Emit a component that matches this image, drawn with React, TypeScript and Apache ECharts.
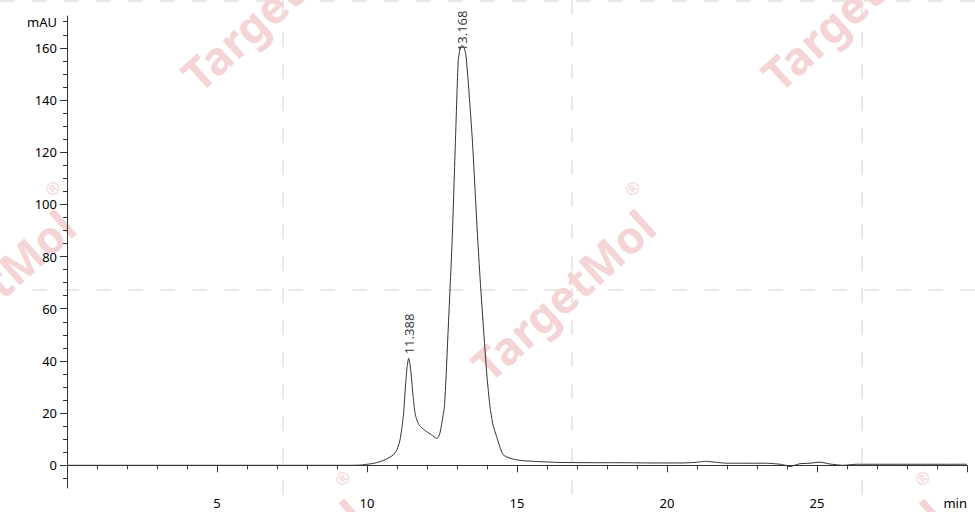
import React, { useEffect, useRef } from 'react';
import * as echarts from 'echarts';

// retention time (min) / absorbance (mAU)
const retentionTimes = [
  0, 5, 9.5, 9.8, 10.0, 10.2, 10.43, 10.65, 10.88, 11.0, 11.1, 11.21, 11.29, 11.34, 11.388, 11.43,
  11.47, 11.54, 11.6, 11.66, 11.72, 11.8, 11.99, 12.15, 12.32, 12.38, 12.43, 12.5, 12.58, 12.64,
  12.69, 12.77, 12.84, 12.95, 13.04, 13.1, 13.168, 13.24, 13.3, 13.4, 13.51, 13.6, 13.69, 13.79,
  13.91, 14.0, 14.1, 14.2, 14.32, 14.43, 14.54, 14.7, 14.9, 15.1, 15.4, 15.77, 16.43, 17.5, 18.5,
  19.5, 20.5, 20.93, 21.15, 21.32, 21.6, 21.99, 22.6, 23.32, 23.77, 23.95, 24.1, 24.25, 24.43,
  24.77, 25.1, 25.43, 25.87, 26.32, 27.5, 29, 30,
];
const absorbance = [
  0, 0, 0, 0.1, 0.4, 0.7, 1.4, 2.4, 4, 6, 9.7, 18.7, 31.5, 38, 41, 39,
  35, 26, 20, 17.4, 15.8, 14.6, 12.9, 11.7, 10.4, 10.8, 12.3, 16.5, 22.5, 35,
  48, 68, 86.7, 125, 155, 159.5, 161, 160, 157, 143, 125, 106, 86.7, 68,
  48, 34, 22.5, 15.5, 11, 7, 4, 3, 2.3, 1.9, 1.6, 1.4, 1.1, 1.0, 1.0,
  0.9, 0.9, 1.1, 1.4, 1.5, 1.2, 0.8, 0.8, 0.8, 0.4, 0, -0.5, 0, 0.6,
  0.8, 1.2, 0.5, 0.0, 0.4, 0.4, 0.4, 0.4,
];

const peakTimes = [11.388, 13.168];
const peakHeights = [41, 161];
const peakLabels = ['11.388', '13.168'];

const yLabelValues = [0, 20, 40, 60, 80, 100, 120, 140, 160, 170];
const yMajorTicks = [0, 20, 40, 60, 80, 100, 120, 140, 160];
const yMinorTicks = [
  -5, 5, 10, 15, 25, 30, 35, 45, 50, 55, 65, 70, 75, 85, 90, 95, 105, 110, 115, 125, 130, 135,
  145, 150, 155, 165, 170,
];

const FONT = '"Noto Sans", sans-serif';

// watermark tile (TargetMol) positions on the page
const wmCenters = [
  [563, 295], [273, 5], [853, 5], [-17, 295], [273, 585], [853, 585],
];
const dashV = [283, 572, 862];
const dashH = [1, 290];

const App: React.FC = () => {
  const chartRef = useRef<HTMLDivElement>(null);

  useEffect(() => {
    if (!chartRef.current) return;
    const chart = echarts.init(chartRef.current, undefined, { renderer: 'svg' });

    const dashLines: any[] = [
      ...dashV.map(x => ({
        type: 'line',
        shape: { x1: x, y1: 0, x2: x, y2: 512 },
        style: { stroke: '#e8e8e8', lineWidth: 2, lineDash: [15, 17] },
        z: -10,
      })),
      ...dashH.map(y => ({
        type: 'line',
        shape: { x1: 0, y1: y, x2: 975, y2: y },
        style: { stroke: '#e8e8e8', lineWidth: 2, lineDash: [15, 17] },
        z: -10,
      })),
    ];

    const marks: any[] = wmCenters.map(([cx, cy]) => ({
      type: 'group',
      x: cx,
      y: cy,
      rotation: (42 * Math.PI) / 180,
      z: -9,
      children: [
        {
          type: 'text',
          style: {
            text: 'TargetMol',
            x: 0,
            y: 0,
            align: 'center',
            verticalAlign: 'middle',
            font: `bold 45px ${FONT}`,
            fill: '#f4d4d4',
          },
        },
        {
          type: 'text',
          style: {
            text: '®',
            x: 123,
            y: -33,
            align: 'center',
            verticalAlign: 'middle',
            font: `17px ${FONT}`,
            fill: '#f4d4d4',
          },
        },
      ],
    }));

    const yCommon = {
      type: 'value',
      min: -8.7,
      max: 172.2,
      splitLine: { show: false },
    };

    const option = {
      animation: false,
      textStyle: { fontFamily: FONT },
      graphic: [...dashLines, ...marks],
      grid: { left: 67, right: 8, top: 16, bottom: 24 },
      xAxis: {
        type: 'value',
        min: 0,
        max: 30,
        interval: 5,
        axisLine: { lineStyle: { color: '#333', width: 1 } },
        axisTick: { length: 7, lineStyle: { color: '#333' } },
        minorTick: { show: true, splitNumber: 5, length: 4, lineStyle: { color: '#333' } },
        splitLine: { show: false },
        axisLabel: {
          color: '#000',
          fontSize: 13,
          fontFamily: FONT,
          margin: 8,
          showMinLabel: false,
          alignMaxLabel: 'right',
          formatter: (v: number) => (v === 30 ? 'min' : String(v)),
        },
      },
      yAxis: [
        {
          ...yCommon,
          axisLine: { show: true, lineStyle: { color: '#333', width: 1 } },
          axisTick: { show: true, length: 7, customValues: yMajorTicks, lineStyle: { color: '#333' } },
          axisLabel: {
            color: '#000',
            fontSize: 13,
            fontFamily: FONT,
            margin: 10,
            customValues: yLabelValues,
            formatter: (v: number) => (v === 170 ? 'mAU' : String(v)),
          },
        },
        {
          ...yCommon,
          position: 'left',
          axisLine: { show: false },
          axisTick: { show: true, length: 4, customValues: yMinorTicks, lineStyle: { color: '#333' } },
          axisLabel: { show: false },
        },
      ],
      series: [
        {
          type: 'line',
          data: retentionTimes.map((t, i) => [t, absorbance[i]]),
          showSymbol: false,
          smooth: 0.2,
          lineStyle: { color: '#333', width: 1 },
          silent: true,
        },
        {
          type: 'scatter',
          symbolSize: 0,
          data: peakTimes.map((t, i) => ({
            value: [t, peakHeights[i]],
            name: peakLabels[i],
            label: { distance: i === 1 ? -6 : 4 },
          })),
          label: {
            show: true,
            position: 'top',
            rotate: 90,
            align: 'left',
            verticalAlign: 'middle',
            color: '#000',
            fontSize: 13,
            fontFamily: FONT,
            formatter: (p: any) => p.name,
          },
          silent: true,
        },
      ],
    };

    chart.setOption(option);
    return () => chart.dispose();
  }, []);

  return (
    <div
      ref={chartRef}
      style={{ position: 'fixed', left: 0, top: 0, width: 975, height: 512, background: '#fff' }}
    />
  );
};

export default App;
